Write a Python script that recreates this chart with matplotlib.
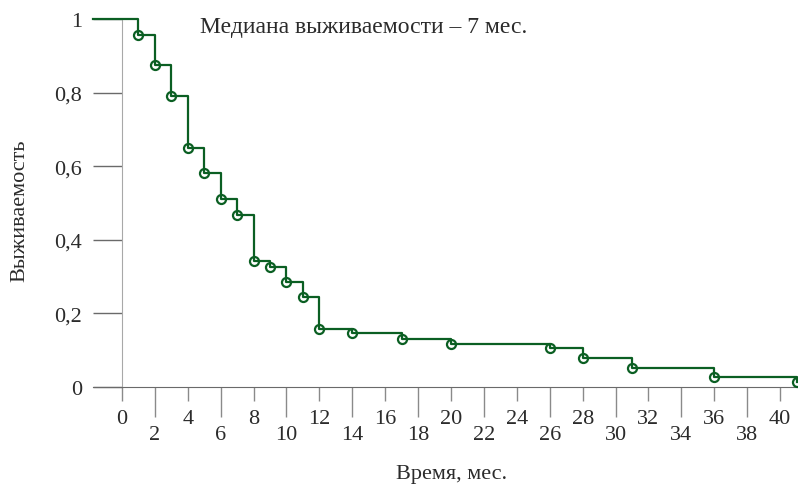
import matplotlib
matplotlib.use("Agg")
import matplotlib.pyplot as plt
import numpy as np

# Kaplan-Meier estimate (months, survival share)
time = [1, 2, 3, 4, 5, 6, 7, 8, 9, 10, 11, 12, 14, 17, 20, 26, 28, 31, 36, 41]
surv = [0.957, 0.875, 0.792, 0.649, 0.581, 0.511, 0.467, 0.342, 0.327, 0.285,
        0.244, 0.158, 0.146, 0.131, 0.118, 0.105, 0.078, 0.051, 0.026, 0.013]
major_x = [0, 4, 8, 12, 16, 20, 24, 28, 32, 36, 40]
minor_x = [2, 6, 10, 14, 18, 22, 26, 30, 34, 38]
y_ticks = [0, 0.2, 0.4, 0.6, 0.8, 1]
y_labels = ["0", "0,2", "0,4", "0,6", "0,8", "1"]

plt.rcParams['font.family'] = ['Liberation Serif', 'DejaVu Serif']
green = '#0b5f23'
text_c = '#2b2b2b'
fs = 16

fig = plt.figure(figsize=(7.98, 4.85), dpi=100)
ax = fig.add_axes([93 / 798, 97 / 485, 705 / 798, 368 / 485])
x_left, x_right = -1.76, 41.09
ax.set_xlim(x_left, x_right)
ax.set_ylim(0, 1)

# survival curve
ax.step(np.r_[x_left, time], np.r_[1.0, surv], where='post', color=green,
        linewidth=1.6, clip_on=False, zorder=3)
ax.plot(time, surv, 'o', markersize=6.5, markerfacecolor='none',
        markeredgecolor=green, markeredgewidth=1.6, clip_on=False, zorder=4)

# axes
for s in ['top', 'right']:
    ax.spines[s].set_visible(False)
ax.spines['left'].set_position(('data', 0))
ax.spines['left'].set_color('#a8a8a8')
ax.spines['bottom'].set_color('#6a6a6a')

ax.set_xticks(major_x)
ax.set_xticklabels([str(v) for v in major_x])
ax.set_xticks(minor_x, minor=True)
ax.set_xticklabels([str(v) for v in minor_x], minor=True)
ax.tick_params(axis='x', which='major', direction='out', length=10, width=1,
               color='#8a8a8a', pad=6, labelsize=fs, labelcolor=text_c)
ax.tick_params(axis='x', which='minor', direction='out', length=21.6, width=1,
               color='#8a8a8a', pad=6, labelsize=fs, labelcolor=text_c)

ax.set_yticks(y_ticks)
ax.set_yticklabels(y_labels)
ax.tick_params(axis='y', direction='out', length=20.9, width=1,
               color='#6a6a6a', pad=8, labelsize=fs, labelcolor=text_c)

ax.set_ylabel('Выживаемость', fontsize=fs, color=text_c, va='center')
ax.yaxis.set_label_coords(-0.1035, 0.481)
ax.set_xlabel('Время, мес.', fontsize=fs, color=text_c, va='center')
ax.xaxis.set_label_coords(0.509, -0.234)

fig.text(200 / 798, 1 - 27 / 485, 'Медиана выживаемости – 7 мес.',
         fontsize=17, color=text_c, va='center', ha='left')

fig.savefig('out.png', dpi=100)
